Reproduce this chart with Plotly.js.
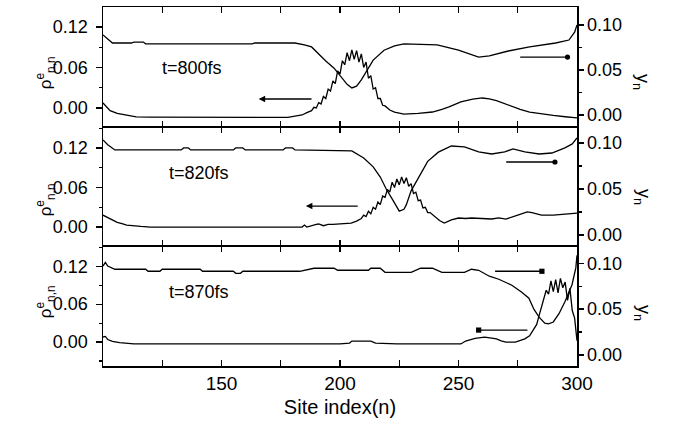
<!DOCTYPE html>
<html>
<head>
<meta charset="utf-8">
<script src="https://cdn.plot.ly/plotly-3.0.1.min.js"></script>
<style>html,body{margin:0;padding:0;background:#fff;}#chart{width:673px;height:426px;}</style>
</head>
<body>
<div id="chart"></div>
<script>
// ---------- Data ----------
// Panel 1: t=800fs
const p1RhoX = [100,101,103,106,109,112,114,120,140,160,178,181,184,186,187,188,189,190,191,192,193,194,195,196,197,198,199,200,201,202,203,204,205,206,207,208,209,210,211,212,213,214,215,216,217,218,219,221,223,227,233,239,243,246,251,256,260,263,266,271,276,280,285,290,295,300];
const p1RhoY = [0.0074,0.004,-0.004,-0.008,-0.010,-0.012,-0.0133,-0.0135,-0.0138,-0.014,-0.014,-0.012,-0.0104,-0.007,-0.005,-0.004,0.001,0.000,0.008,0.006,0.017,0.014,0.028,0.025,0.040,0.036,0.055,0.050,0.070,0.064,0.082,0.070,0.086,0.072,0.085,0.068,0.080,0.060,0.068,0.044,0.048,0.028,0.030,0.014,0.014,0.004,0.003,-0.003,-0.006,-0.009,-0.008,-0.006,-0.002,0.0015,0.009,0.013,0.0148,0.0135,0.011,0.0044,-0.002,-0.006,-0.009,-0.011,-0.013,-0.0148];
const p1YnX = [100,102,104,112,113,117,118,163,164,181,185,188,192,194,197.5,199,201,203,205,207,209,212,214,218.6,223,227,241,250,258.5,263,271,280,291,296.6,299,300];
const p1YnY = [0.089,0.084,0.080,0.080,0.081,0.081,0.079,0.079,0.080,0.080,0.078,0.0756,0.065,0.060,0.052,0.047,0.040,0.034,0.030,0.032,0.039,0.052,0.061,0.072,0.0767,0.079,0.078,0.072,0.0644,0.0656,0.0711,0.0756,0.080,0.0833,0.092,0.100];

// Panel 2: t=820fs
const p2RhoX = [100,102,104,106,108,110,116,120,183,184,185,186,190,191,193,195,197,200,204.7,207,209,210,211,212,213,214,215,216,217,218,219,220,221,222,223,224,225,226,227,228,229,230,231,232,233,234,235,236,237,238,240,242,244,247,250,253,255.5,260,264,267,270,275,279,281,285,290,295,300];
const p2RhoY = [0.018,0.014,0.010,0.007,0.005,0.003,0.001,0.0,0.0,0.0,0.003,0.0,0.004,0.0046,0.002,0.004,0.004,0.005,0.006,0.009,0.013,0.018,0.016,0.024,0.020,0.030,0.027,0.038,0.034,0.047,0.045,0.057,0.053,0.068,0.060,0.073,0.064,0.076,0.066,0.075,0.062,0.066,0.051,0.053,0.040,0.041,0.029,0.030,0.022,0.022,0.016,0.010,0.006,0.011,0.0137,0.013,0.0137,0.013,0.0122,0.014,0.012,0.018,0.023,0.022,0.018,0.018,0.019,0.021];
const p2YnX = [100,102,105,133,134,136,137,155,156,159,160,176,177,180,181,200,205,210,214,217,219.5,222.5,225,227,228,230,233,235.6,237,241.5,247,252.5,258.5,264,269.5,273,278,284,289.4,294.9,298,300];
const p2YnY = [0.1033,0.098,0.0924,0.0924,0.0946,0.0946,0.0924,0.0924,0.0946,0.0946,0.0924,0.0924,0.0946,0.0946,0.0924,0.092,0.0913,0.0837,0.074,0.063,0.050,0.037,0.026,0.028,0.033,0.048,0.062,0.075,0.080,0.090,0.0967,0.0957,0.0902,0.088,0.0902,0.0935,0.0902,0.088,0.0891,0.0946,0.099,0.1054];

// Panel 3: t=870fs
const p3RhoX = [100,101,102,104,107,110,113,130,150,170,200,204,205,207,213,215,224,251,253,257,261,264,266,268,270,274,276,278,280,281,282,283,284,285,286,287,288,289,290,291,292,293,294,295,296,297,298,299,300];
const p3RhoY = [0.008,0.009,0.004,0.001,-0.001,-0.002,-0.003,-0.003,-0.003,-0.003,-0.003,-0.0016,0.0016,0.0016,0.0016,-0.0016,-0.003,-0.003,0.0016,0.006,0.0079,0.0063,0.005,0.002,0.000,0.000,0.002,0.005,0.010,0.016,0.024,0.028,0.042,0.055,0.066,0.082,0.076,0.097,0.080,0.099,0.078,0.101,0.086,0.095,0.066,0.085,0.050,0.038,0.002];
const p3YnX = [100,101,102,105,118,119,124,125,141,142,155,156,158,159,183,189,197.5,199,212,213,217,219,230,234,239,243,252.5,255.5,258.5,261,263,267,272.5,276.7,279.7,281.8,284,286.4,288,290,292.4,294.9,297.9,299.5,300];
const p3YnY = [0.097,0.101,0.097,0.0935,0.0935,0.0913,0.0913,0.0935,0.0935,0.0913,0.0913,0.0891,0.0891,0.0913,0.0913,0.0946,0.0946,0.0924,0.0924,0.0946,0.0946,0.0902,0.0902,0.0946,0.0946,0.0902,0.0902,0.0935,0.0924,0.0891,0.0859,0.0826,0.0761,0.0685,0.062,0.050,0.0413,0.0348,0.034,0.0360,0.045,0.058,0.0766,0.095,0.1087];

// Tick labels
const xTickVals = [150,200,250,300];
const panelLabels = ['t=800fs','t=820fs','t=870fs'];
const leftTitle = '\u03C1<sup>e</sup><sub>n,n</sub>';
const rightTitle = 'y<sub>n</sub>';
const xTitle = 'Site index(n)';

// ---------- Plot ----------
const FONT = 'Liberation Sans, Arial, sans-serif';
const line = {color:'#000', width:1.3};
const traces = [
  {x:p1RhoX, y:p1RhoY, xaxis:'x',  yaxis:'y',  mode:'lines', line:line},
  {x:p1YnX,  y:p1YnY,  xaxis:'x',  yaxis:'y2', mode:'lines', line:line},
  {x:p2RhoX, y:p2RhoY, xaxis:'x2', yaxis:'y3', mode:'lines', line:line},
  {x:p2YnX,  y:p2YnY,  xaxis:'x2', yaxis:'y4', mode:'lines', line:line},
  {x:p3RhoX, y:p3RhoY, xaxis:'x3', yaxis:'y5', mode:'lines', line:line},
  {x:p3YnX,  y:p3YnY,  xaxis:'x3', yaxis:'y6', mode:'lines', line:line}
];

function xAx(anchor, labels){
  return {anchor:anchor, range:[100,300], showline:true, linewidth:1.1, linecolor:'#000',
    mirror:'ticks', ticks:'inside', ticklen:6, tickwidth:1.2, tickcolor:'#000',
    tickvals:xTickVals, showticklabels:labels,
    minor:{dtick:25, tick0:0, ticks:'inside', ticklen:6, tickwidth:1.2, tickcolor:'#000'},
    showgrid:false, zeroline:false, tickfont:{size:19, family:FONT, color:'#000'}};
}
function yLeft(domain, range, anchor){
  return {domain:domain, range:range, anchor:anchor, showline:true, linewidth:1.5, linecolor:'#000',
    ticks:'outside', ticklen:6, tickwidth:1.3, tickcolor:'#000', ticklabelstandoff:4,
    tick0:0, dtick:0.06, tickformat:'.2f',
    minor:{dtick:0.03, tick0:0, ticks:'outside', ticklen:3, tickwidth:1.2, tickcolor:'#000'},
    showgrid:false, zeroline:false, tickfont:{size:18, family:FONT, color:'#000'}};
}
function yRight(over, range, anchor){
  return {overlaying:over, side:'right', range:range, anchor:anchor, showline:true, linewidth:1.5, linecolor:'#000',
    ticks:'outside', ticklen:5, tickwidth:1.3, tickcolor:'#000',
    tick0:0, dtick:0.05, tickformat:'.2f',
    minor:{dtick:0.025, tick0:0, ticks:'outside', ticklen:3, tickwidth:1.2, tickcolor:'#000'},
    showgrid:false, zeroline:false, tickfont:{size:18, family:FONT, color:'#000'}};
}

const x3 = xAx('y5', true);
x3.linewidth = 1.5;
x3.title = {text:xTitle, font:{size:20, family:FONT, color:'#000'}, standoff:6};
const x1 = xAx('y', false);
x1.linewidth = 1.5;

function arrow(xh, xt, y, xref, yref, head){
  return {x:xh, y:y, ax:xt, ay:y, xref:xref, yref:yref, axref:xref, ayref:yref,
    text:'', showarrow:true, arrowhead:head, arrowsize:1, arrowwidth:1.3, arrowcolor:'#000', standoff:0, startstandoff:0};
}
function label(text, x, y, xref, yref){
  return {text:text, x:x, y:y, xref:xref, yref:yref, showarrow:false, xanchor:'center', yanchor:'middle',
    font:{size:18, family:FONT, color:'#000'}};
}
function ptitle(text, x, y, angle, size){
  return {text:text, x:x, y:y, xref:'paper', yref:'paper', showarrow:false, xanchor:'center', yanchor:'middle',
    textangle:angle, font:{size:size, family:FONT, color:'#000'}};
}

const annotations = [
  label(panelLabels[0], 137.7, 0.059, 'x', 'y'),
  label(panelLabels[1], 140.3, 0.082, 'x2', 'y3'),
  label(panelLabels[2], 140.3, 0.079, 'x3', 'y5'),
  arrow(165.7, 188.6, 0.0133, 'x', 'y', 2),
  arrow(296.0, 275.4, 0.0644, 'x', 'y2', 6),
  arrow(185.6, 208.1, 0.0319, 'x2', 'y3', 2),
  arrow(290.7, 269.5, 0.0793, 'x2', 'y4', 6),
  arrow(285.2, 264.8, 0.0913, 'x3', 'y6', 7),
  arrow(258.5, 279.7, 0.019, 'x3', 'y5', 7),
  ptitle(leftTitle, -0.122, 0.816, -90, 17),
  ptitle(leftTitle, -0.122, 0.462, -90, 17),
  ptitle(leftTitle, -0.122, 0.178, -90, 17),
  ptitle(rightTitle, 1.137, 0.791, 90, 18),
  ptitle(rightTitle, 1.137, 0.471, 90, 18),
  ptitle(rightTitle, 1.137, 0.148, 90, 18)
];

const layout = {
  width:673, height:426,
  margin:{l:103, r:96, t:7, b:60, pad:0},
  paper_bgcolor:'#fff', plot_bgcolor:'#fff',
  showlegend:false,
  font:{family:FONT, color:'#000'},
  xaxis:x1,
  xaxis2:xAx('y3', false),
  xaxis3:x3,
  yaxis:yLeft([2/3,1], [-0.0277,0.1496], 'x'),
  yaxis2:yRight('y', [-0.013,0.12], 'x'),
  yaxis3:yLeft([1/3,2/3], [-0.0293,0.1524], 'x2'),
  yaxis4:yRight('y3', [-0.0123,0.1177], 'x2'),
  yaxis5:yLeft([0,1/3], [-0.0379,0.1516], 'x3'),
  yaxis6:yRight('y5', [-0.012,0.1185], 'x3'),
  annotations:annotations
};

Plotly.newPlot('chart', traces, layout, {staticPlot:true, displayModeBar:false});
</script>
</body>
</html>
